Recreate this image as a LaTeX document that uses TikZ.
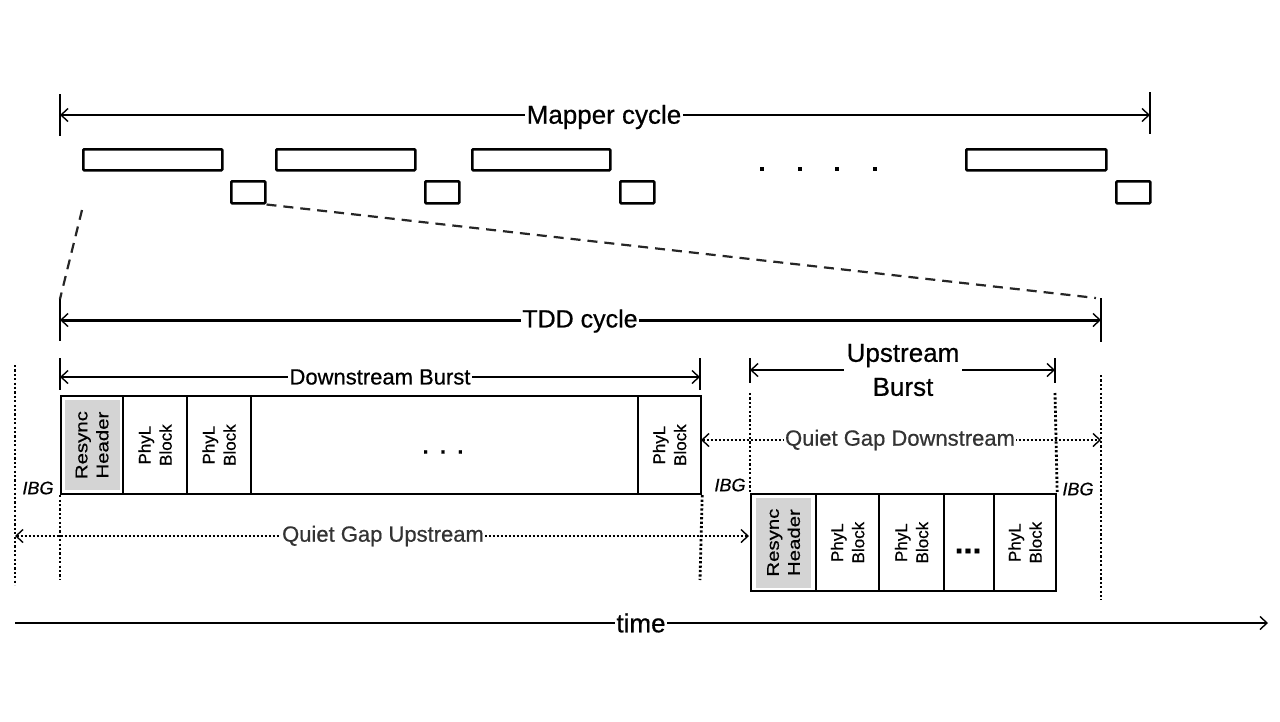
\documentclass[tikz,border=0pt]{standalone}
\usepackage{fontspec}
\setmainfont{Liberation Sans}[FakeBold=0.6]
\newfontfamily\widefont[FakeStretch=1.2,FakeBold=0.6]{Liberation Sans}
\usetikzlibrary{arrows.meta}
\begin{document}
\begin{tikzpicture}[x=1pt,y=-1pt,
  barb/.tip={Straight Barb[length=7pt,width=13pt,line width=1.4pt]},
  dimline/.style={line width=1.6pt,{barb}-{barb}},
  tddline/.style={line width=3pt,{barb}-{barb}},
  ticks/.style={line width=2.6pt},
  lbl/.style={fill=white,inner sep=1.5pt,font=\fontsize{26}{30}\selectfont},
  midlbl/.style={fill=white,inner sep=1.5pt,font=\fontsize{22}{26}\selectfont},
  gaplbl/.style={fill=white,inner sep=1.5pt,text=black!80,font=\fontsize{22}{26}\selectfont},
  bar/.style={draw,line width=2.5pt,rounded corners=1pt,inner sep=0pt,anchor=north west,minimum height=21pt},
  sbar/.style={draw,line width=2.5pt,rounded corners=1pt,inner sep=0pt,anchor=north west,minimum width=34pt,minimum height=22pt},
  dcell/.style={draw,line width=2.2pt,inner sep=0pt,anchor=north west,minimum height=98pt},
  ucell/.style={draw,line width=2.2pt,inner sep=0pt,anchor=north west,minimum height=97pt},
  greyfill/.style={fill=black!17,inner sep=0pt,minimum width=55pt,minimum height=90pt},
  celltxt/.style={rotate=90,align=center,inner sep=0pt,font=\fontsize{17}{21}\selectfont},
  rhtxt/.style={rotate=90,align=center,inner sep=0pt,font=\widefont\fontsize{17}{21}\selectfont},
  vdots/.style={line width=2.8pt,dash pattern=on 2.2pt off 2.2pt},
  gapline/.style={line width=1.7pt,dash pattern=on 2pt off 2pt,{barb}-{barb}},
  dashln/.style={line width=2.2pt,dash pattern=on 10pt off 7pt,black!85},
  ibg/.style={inner sep=0pt,font=\fontsize{18}{20}\selectfont\itshape},
  timeax/.style={line width=2pt,-{barb}}
]
\useasboundingbox (0,0) rectangle (1280,721);

% ---------- Mapper cycle ----------
\coordinate (mL) at (60,115);
\coordinate (mR) at (1150,115);
\coordinate (mLt) at (60,94);  \coordinate (mLb) at (60,136);
\coordinate (mRt) at (1150,92); \coordinate (mRb) at (1150,134);
\draw[ticks] (mLt) -- (mLb);
\draw[ticks] (mRt) -- (mRb);
\draw[dimline] (mL) -- (mR);
\node[lbl] (mapper) at (604,117) {Mapper cycle};

\node[bar,minimum width=139pt] (b1) at (82,148) {};
\node[bar,minimum width=139pt] (b2) at (275,148) {};
\node[bar,minimum width=138pt] (b3) at (471,148) {};
\node[bar,minimum width=140pt] (b4) at (965,148) {};
\node[sbar] (s1) at (230,180) {};
\node[sbar] (s2) at (424,180) {};
\node[sbar] (s3) at (619,180) {};
\node[sbar] (s4) at (1115,180) {};
\foreach \x in {762,800,837,875} \fill (\x-2.2,167) rectangle (\x+2.2,171.4);

% ---------- TDD cycle ----------
\coordinate (tL) at (60,320);
\coordinate (tR) at (1101,320);
\coordinate (tLt) at (60,299);  \coordinate (tLb) at (60,341);
\coordinate (tRt) at (1101,298); \coordinate (tRb) at (1101,342);
\draw[ticks] (tLt) -- (tLb);
\draw[ticks] (tRt) -- (tRb);
\draw[tddline] (tL) -- (tR);
\node[lbl,font=\fontsize{25}{30}\selectfont] (tdd) at (580,321) {TDD cycle};

\coordinate (dl0) at (82,210);
\draw[dashln] (dl0) -- (tLt);
\coordinate (dr1) at (1096,298);
\draw[dashln] (s1.south east) -- (dr1);

% ---------- Downstream burst ----------
\coordinate (dbL) at (60,377);
\coordinate (dbR) at (700,377);
\coordinate (dbLt) at (60,358); \coordinate (dbLb) at (60,390);
\coordinate (dbRt) at (700,358); \coordinate (dbRb) at (700,390);
\draw[ticks] (dbLt) -- (dbLb);
\draw[ticks] (dbRt) -- (dbRb);
\draw[dimline] (dbL) -- (dbR);
\node[midlbl] (dsb) at (380,377) {Downstream Burst};

\node[dcell,minimum width=62pt] (d1) at (60,395) {};
\node[greyfill] (d1g) at (d1.center) {};
\node[dcell,minimum width=64pt] (d2) at (122,395) {};
\node[dcell,minimum width=64pt] (d3) at (186,395) {};
\node[dcell,minimum width=387pt] (d4) at (250,395) {};
\node[dcell,minimum width=63pt] (d5) at (637,395) {};
\node[rhtxt] (d1t) at (d1.center) {Resync\\Header};
\node[celltxt] (d2t) at (d2.center) {PhyL\\Block};
\node[celltxt] (d3t) at (d3.center) {PhyL\\Block};
\node[celltxt] (d5t) at (d5.center) {PhyL\\Block};
\node[inner sep=0pt,font=\fontsize{30}{30}\selectfont] (d4t) at (443,452) {.\hspace{9pt}.\hspace{9pt}.};

% ---------- Upstream burst ----------
\coordinate (ubL) at (750,370);
\coordinate (ubR) at (1055,370);
\coordinate (ubLt) at (750,358); \coordinate (ubLb) at (750,383);
\coordinate (ubRt) at (1055,358); \coordinate (ubRb) at (1055,383);
\draw[ticks] (ubLt) -- (ubLb);
\draw[ticks] (ubRt) -- (ubRb);
\draw[dimline] (ubL) -- (ubR);
\node[fill=white,inner sep=3pt,align=center,font=\fontsize{26}{34}\selectfont] (usb) at (903,370) {Upstream\\Burst};

\node[ucell,minimum width=65pt] (u1) at (750,493) {};
\node[greyfill] (u1g) at (u1.center) {};
\node[ucell,minimum width=63pt] (u2) at (815,493) {};
\node[ucell,minimum width=65pt] (u3) at (878,493) {};
\node[ucell,minimum width=50pt] (u4) at (943,493) {};
\node[ucell,minimum width=62pt] (u5) at (993,493) {};
\node[rhtxt] (u1t) at (u1.center) {Resync\\Header};
\node[celltxt] (u2t) at (u2.center) {PhyL\\Block};
\node[celltxt] (u3t) at (u3.center) {PhyL\\Block};
\node[celltxt] (u5t) at (u5.center) {PhyL\\Block};
\node[inner sep=0pt,font=\bfseries\fontsize{32}{32}\selectfont] (u4t) at (968,551) {...};

% ---------- dotted verticals ----------
\coordinate (v1t) at (15,365);   \coordinate (v1b) at (15,585);
\coordinate (v2b) at (60,580);
\coordinate (v3b) at (700,580);
\coordinate (v4t) at (750,393);
\coordinate (v5t) at (1055,393);
\coordinate (v6t) at (1101,375); \coordinate (v6b) at (1101,600);
\draw[vdots] (v1t) -- (v1b);
\draw[vdots] (d1.south west) -- (v2b);
\draw[vdots] (d5.south east) -- (v3b);
\draw[vdots] (v4t) -- (u1.north west);
\draw[vdots] (v5t) -- (u5.north east);
\draw[vdots] (v6t) -- (v6b);

% ---------- quiet gaps ----------
\coordinate (qu1) at (15,536);
\coordinate (qu2) at (749,536);
\draw[gapline] (qu1) -- (qu2);
\node[gaplbl] (qgu) at (383,536) {Quiet Gap Upstream};
\coordinate (qd1) at (701,440);
\coordinate (qd2) at (1101,440);
\draw[gapline] (qd1) -- (qd2);
\node[gaplbl] (qgd) at (900,440) {Quiet Gap Downstream};

% ---------- IBG labels ----------
\node[ibg] (ibg1) at (38,488) {IBG};
\node[ibg] (ibg2) at (730,485) {IBG};
\node[ibg] (ibg3) at (1078,489) {IBG};

% ---------- time axis ----------
\coordinate (ta) at (15,623);
\coordinate (tb) at (1268,623);
\draw[timeax] (ta) -- (tb);
\node[fill=white,inner sep=1.5pt,font=\fontsize{26}{30}\selectfont] (time) at (641,623) {time};
\end{tikzpicture}
\end{document}
